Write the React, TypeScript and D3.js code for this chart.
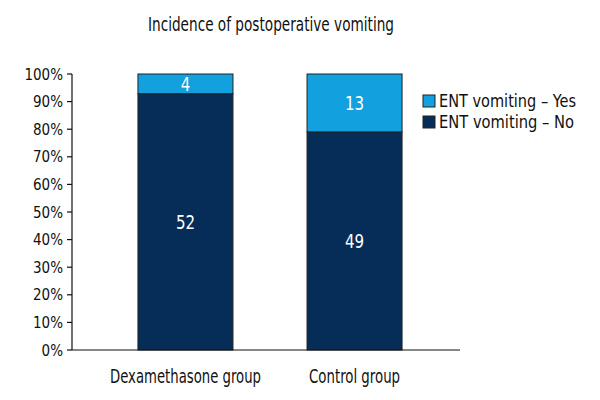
import React from "react";
import * as d3 from "d3";

const categories = ["Dexamethasone group", "Control group"];
const seriesNames = ["ENT vomiting – No", "ENT vomiting – Yes"];
const noValues = [52, 49];
const yesValues = [4, 13];
const colors = ["#062d58", "#12a0de"];
const yTicks = [0, 10, 20, 30, 40, 50, 60, 70, 80, 90, 100];

const FONT = "'DejaVu Sans Condensed', 'DejaVu Sans', sans-serif";

export default function App() {
  const W = 600, H = 400;
  const x0 = 72, y0 = 350, yTop = 74;
  const y = d3.scaleLinear().domain([0, 100]).range([y0, yTop]);
  const x = d3.scaleBand().domain(categories).range([x0, 468]).paddingInner(0.438).paddingOuter(0.39);
  const catWidths = [151, 91];
  const legWidths = [135, 137];

  const rows = categories.map((c, i) => {
    const total = noValues[i] + yesValues[i];
    return { c, vals: [noValues[i], yesValues[i]], pct: [noValues[i] / total * 100, yesValues[i] / total * 100] };
  });

  return (
    <svg width={W} height={H} style={{ position: "absolute", left: 0, top: 0, background: "#fff" }} fontFamily={FONT}>
      <text x={271} y={31} textAnchor="middle" fontSize={19} fill="#111" textLength={246} lengthAdjust="spacingAndGlyphs">Incidence of postoperative vomiting</text>
      {rows.map((r) => {
        let acc = 0;
        return r.pct.map((p, k) => {
          const yb = y(acc), yt = y(acc + p);
          acc += p;
          const bx = x(r.c)!;
          return (
            <g key={r.c + k}>
              <rect x={bx} y={yt} width={x.bandwidth()} height={yb - yt} fill={colors[k]} stroke="#222" strokeWidth={1} />
              <text x={bx + x.bandwidth() / 2} y={(yt + yb) / 2 + 7} textAnchor="middle" fontSize={19} fill="#fff" transform={`translate(${(bx + x.bandwidth() / 2) * 0.12},0) scale(0.88,1)`}>{r.vals[k]}</text>
            </g>
          );
        });
      })}
      <line x1={x0} x2={x0} y1={yTop} y2={y0} stroke="#111" strokeWidth={1.2} />
      <line x1={x0} x2={460} y1={y0} y2={y0} stroke="#111" strokeWidth={1.2} />
      {yTicks.map((t) => (
        <g key={t}>
          <line x1={x0 - 5} x2={x0} y1={y(t)} y2={y(t)} stroke="#111" strokeWidth={1.2} />
          <text x={x0 - 9} y={y(t) + 5.5} textAnchor="end" fontSize={15} fill="#111">{t}%</text>
        </g>
      ))}
      {categories.map((c, i) => (
        <text key={c} x={x(c)! + x.bandwidth() / 2} y={383} textAnchor="middle" fontSize={19} fill="#111" textLength={catWidths[i]} lengthAdjust="spacingAndGlyphs">{c}</text>
      ))}
      {[1, 0].map((k, i) => (
        <g key={k}>
          <rect x={423} y={95 + i * 21} width={12} height={12} fill={colors[k]} stroke="#222" strokeWidth={1} />
          <text x={439} y={107 + i * 21} fontSize={17} fill="#111" textLength={legWidths[k]} lengthAdjust="spacingAndGlyphs">{seriesNames[k]}</text>
        </g>
      ))}
    </svg>
  );
}
